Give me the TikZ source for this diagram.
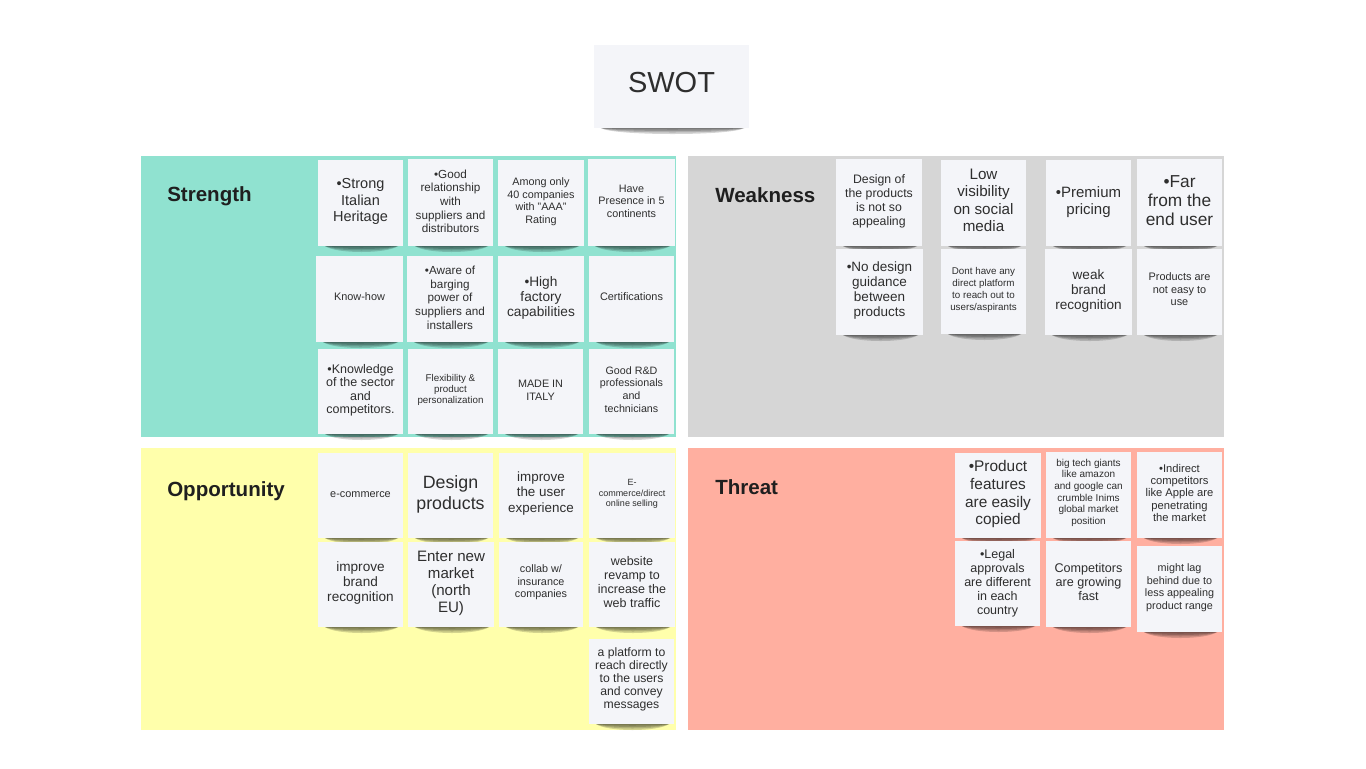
\documentclass[tikz,border=0pt]{standalone}
\usepackage{fontspec}
\setmainfont{Liberation Sans}
\definecolor{strengthcol}{HTML}{90E2D0}
\definecolor{weaknesscol}{HTML}{D6D6D6}
\definecolor{opportunitycol}{HTML}{FFFFAB}
\definecolor{threatcol}{HTML}{FFAFA0}
\definecolor{notecol}{HTML}{F4F5F9}
\definecolor{inkcol}{HTML}{2E2E2E}
\tikzset{
	noteshadow/.style={fill=black,opacity=.17},
	notetext/.style={align=center,text=inkcol,inner sep=0pt},
	heading/.style={anchor=west,inner sep=0pt,text=black!88,font=\fontsize{15.4}{18}\selectfont\bfseries}
}
\begin{document}
\begin{tikzpicture}[x=0.75pt,y=-0.75pt]
	\useasboundingbox (0,0) rectangle (1366,768);
	\foreach \nm/\col/\xa/\ya/\xb/\yb/\hx/\hy/\txt in {
		strength/strengthcol/141/156/676/437/167/196/Strength,
		weakness/weaknesscol/688/156/1224/437/715/195/Weakness,
		opportunity/opportunitycol/141/448/676/730/167/491/Opportunity,
		threat/threatcol/688/448/1224/730/715/487/Threat}{
		\fill[\col] (\xa,\ya) rectangle (\xb,\yb);
		\node[heading] (\nm) at (\hx,\hy) {\txt};
	}
	\foreach \nm/\xa/\ya/\xb/\yb/\dy/\fs/\ls/\txt in {
		title/594/45/749/128/-3/29/33/{SWOT},
		s11/318/160/403/246/0/14.5/16.5/{•Strong\\Italian\\Heritage},
		s12/408/159/493/246/0/11.7/13.6/{•Good\\relationship\\with\\suppliers and\\distributors},
		s13/498/160/584/246/0/10.8/12.6/{Among only\\40 companies\\with "AAA"\\Rating},
		s14/588/159/675/246/0/10.8/12.6/{Have\\Presence in 5\\continents},
		s21/316/256/403/342/-1/10.9/12.6/{Know-how},
		s22/407/256/493/342/0/11.7/13.6/{•Aware of\\barging\\power of\\suppliers and\\installers},
		s23/498/256/584/342/0/13.7/15/{•High\\factory\\capabilities},
		s24/589/256/674/342/-1/10.9/12.6/{Certifications},
		s31/318/349/403/434/0/12.5/13.6/{•Knowledge\\of the sector\\and\\competitors.},
		s32/408/349/493/434/0/9.8/11/{Flexibility \&\\product\\personalization},
		s33/498/349/583/434/0/10.8/12.6/{MADE IN\\ITALY},
		s34/589/349/674/434/-1/10.7/12.6/{Good R\&D\\professionals\\and\\technicians},
		w11/836/159/922/246/0/12.3/14/{Design of\\the products\\is not so\\appealing},
		w12/941/160/1026/246/-1.5/15.2/17.6/{Low\\visibility\\on social\\media},
		w13/1046/160/1131/246/0/15/17/{•Premium\\pricing},
		w14/1137/159/1222/246/-1/17.3/19/{•Far\\from the\\end user},
		w21/836/249/923/335/0/13.5/15/{•No design\\guidance\\between\\products},
		w22/941/249/1026/334/0/9.8/12/{Dont have any\\direct platform\\to reach out to\\users/aspirants},
		w23/1045/249/1132/335/0/13.6/15/{weak\\brand\\recognition},
		w24/1137/249/1222/335/-1.5/10.9/12.5/{Products are\\not easy to\\use},
		o11/318/453/403/538/0/10.9/12.6/{e-commerce},
		o12/408/453/493/538/0/17.8/21/{Design\\products},
		o13/499/453/583/538/-1/13.4/15.5/{improve\\the user\\experience},
		o14/589/453/675/538/0/9/10.5/{E-\\commerce/direct\\online selling},
		o21/318/542/403/627/0/13.6/15/{improve\\brand\\recognition},
		o22/408/542/494/627/0/15.1/17/{Enter new\\market\\(north\\EU)},
		o23/499/542/583/627/-1/10.8/12.4/{collab w/\\insurance\\companies},
		o24/589/542/675/627/-1/12.5/14/{website\\revamp to\\increase the\\web traffic},
		o34/589/639/674/724/-1/12.2/13/{a platform to\\reach directly\\to the users\\and convey\\messages},
		t11/955/453/1041/538/0/15.4/17.6/{•Product\\features\\are easily\\copied},
		t12/1046/452/1131/538/-1/10/11.7/{big tech giants\\like amazon\\and google can\\crumble Inims\\global market\\position},
		t13/1137/452/1222/538/-1/11.2/12.2/{•Indirect\\competitors\\like Apple are\\penetrating\\the market},
		t21/955/541/1040/626/1/12.5/14/{•Legal\\approvals\\are different\\in each\\country},
		t22/1046/541/1131/627/-1/12.6/14.2/{Competitors\\are growing\\fast},
		t23/1137/546/1222/632/0/10.8/12.6/{might lag\\behind due to\\less appealing\\product range}}{
		\pgfmathsetmacro{\fpt}{\fs*0.75}
		\pgfmathsetmacro{\lpt}{\ls*0.75}
		\foreach \d in {2,4,6,8}
			\fill[noteshadow] (\xa+7,\yb) -- (\xb-5,\yb) .. controls (\xb-16,\yb+\d) and (\xa+18,\yb+\d) .. (\xa+7,\yb) -- cycle;
		\fill[notecol] (\xa,\ya) rectangle (\xb,\yb);
		\node[notetext,font=\fontsize{\fpt}{\lpt}\selectfont] (\nm) at ({(\xa+\xb)/2},{(\ya+\yb)/2-1.2+\dy}) {\txt};
	}
\end{tikzpicture}
\end{document}
